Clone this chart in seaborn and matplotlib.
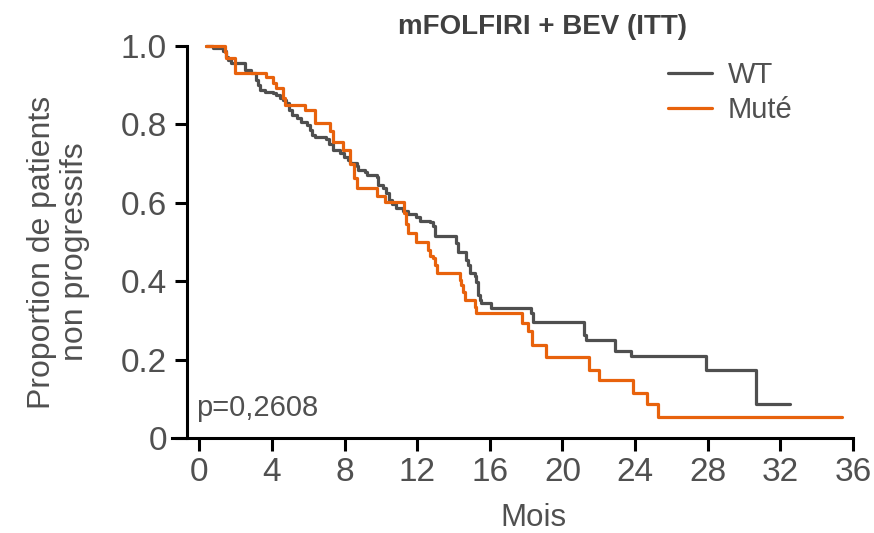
import matplotlib
matplotlib.use("Agg")
import matplotlib.pyplot as plt
import seaborn as sns
import pandas as pd
from matplotlib.lines import Line2D

# ---- data ----
wt_time = [0.35, 0.76, 1.31, 1.50, 1.59, 1.77, 2.51, 2.87, 3.15, 3.24, 3.33, 3.61, 4.06, 4.25,
           4.43, 4.61, 4.80, 4.95, 5.10, 5.40, 5.63, 5.95, 6.08, 6.22, 6.36, 7.00, 7.12, 7.35,
           7.74, 7.95, 8.20, 8.29, 8.66, 8.75, 9.11, 9.25, 9.80, 9.87, 10.12, 10.31, 10.45,
           10.60, 10.86, 11.22, 11.50, 11.96, 12.14, 12.69, 12.87, 12.97, 14.16, 14.25, 14.71,
           14.80, 14.90, 15.17, 15.26, 15.35, 15.45, 15.54, 16.09, 18.29, 18.38, 21.17, 21.28,
           22.92, 23.80, 27.89, 30.64, 32.52]
wt_surv = [1.0, 0.994, 0.988, 0.973, 0.964, 0.956, 0.940, 0.932, 0.913, 0.900, 0.888, 0.883,
           0.879, 0.875, 0.867, 0.862, 0.854, 0.837, 0.824, 0.816, 0.805, 0.798, 0.786, 0.773,
           0.769, 0.764, 0.750, 0.735, 0.726, 0.716, 0.709, 0.701, 0.694, 0.684, 0.679, 0.671,
           0.667, 0.645, 0.637, 0.625, 0.607, 0.597, 0.588, 0.580, 0.571, 0.565, 0.554, 0.550,
           0.541, 0.515, 0.497, 0.475, 0.454, 0.441, 0.420, 0.414, 0.399, 0.365, 0.352, 0.344,
           0.331, 0.318, 0.297, 0.263, 0.250, 0.223, 0.208, 0.173, 0.086, 0.086]

mut_time = [0.35, 1.40, 1.50, 1.95, 3.70, 4.07, 4.25, 4.62, 4.71, 5.81, 6.36, 7.19, 7.37, 7.92,
            8.29, 8.51, 8.70, 9.80, 10.25, 11.25, 11.41, 11.50, 11.94, 12.58, 12.69, 12.87,
            13.00, 13.10, 14.34, 14.44, 14.53, 14.64, 15.17, 15.26, 17.76, 18.10, 18.35, 19.08,
            21.45, 22.00, 23.91, 24.64, 25.24, 35.40]
mut_surv = [1.0, 0.985, 0.969, 0.930, 0.922, 0.905, 0.892, 0.867, 0.849, 0.838, 0.803, 0.782,
            0.756, 0.735, 0.698, 0.662, 0.637, 0.618, 0.602, 0.575, 0.545, 0.522, 0.501, 0.480,
            0.465, 0.458, 0.441, 0.420, 0.403, 0.390, 0.373, 0.352, 0.335, 0.318, 0.293, 0.274,
            0.237, 0.207, 0.173, 0.148, 0.114, 0.087, 0.053, 0.053]

groups = ["WT", "Muté"]
colors = {"WT": "#4f4f4f", "Muté": "#e8620c"}
x_ticks = [0, 4, 8, 12, 16, 20, 24, 28, 32, 36]
y_ticks = [0, 0.2, 0.4, 0.6, 0.8, 1.0]
y_ticklabels = ["0", "0.2", "0.4", "0.6", "0.8", "1.0"]
title = "mFOLFIRI + BEV (ITT)"
p_text = "p=0,2608"

df = pd.concat([
    pd.DataFrame({"Mois": wt_time, "Survie": wt_surv, "Groupe": "WT"}),
    pd.DataFrame({"Mois": mut_time, "Survie": mut_surv, "Groupe": "Muté"}),
], ignore_index=True)

sns.set_theme(style="ticks")
plt.rcParams["font.family"] = ["Liberation Sans", "DejaVu Sans"]

fig = plt.figure(figsize=(8.74, 5.33), dpi=100)
ax = fig.add_axes([172 / 874, 1 - 438 / 533, (853 - 172) / 874, (438 - 46) / 533])

sns.lineplot(data=df, x="Mois", y="Survie", hue="Groupe", hue_order=groups,
             palette=colors, estimator=None, sort=False, drawstyle="steps-post",
             linewidth=2.3, ax=ax, legend=False)
for ln in ax.lines:
    ln.set_clip_on(False)

ax.set_xlim(-1.5, 36)
ax.set_ylim(0, 1.0)
ax.spines["left"].set_position(("data", -0.7))
ax.spines["right"].set_visible(False)
ax.spines["top"].set_visible(False)
for s in ["left", "bottom"]:
    ax.spines[s].set_linewidth(2.2)
    ax.spines[s].set_color("black")
ax.spines["bottom"].set_bounds(-1.5, 36)

ax.set_xticks(x_ticks)
ax.set_xticklabels([str(v) for v in x_ticks])
ax.set_yticks(y_ticks)
ax.set_yticklabels(y_ticklabels)
ax.tick_params(axis="both", direction="out", length=9, width=2.2, color="black",
               labelsize=24, labelcolor="#505050", pad=5)

ax.set_xlabel("Mois", fontsize=22.5, color="#505050")
ax.xaxis.set_label_coords((533 - 172) / 681, (438 - 503) / 392)
ax.set_ylabel("Proportion de patients\nnon progressifs", fontsize=23, color="#505050",
              linespacing=1.15)
ax.yaxis.set_label_coords((90 - 172) / 681, (438 - 252) / 392)

fig.text(542 / 874, 1 - 27 / 533, title, ha="center", va="center", fontsize=20,
         fontweight="bold", color="#404040")
ax.text(-0.15, (438 - 408) / 392, p_text, fontsize=21, color="#505050",
        ha="left", va="center")

handles = [Line2D([], [], color=colors[g], linewidth=2.3) for g in groups]
leg = ax.legend(handles, groups, loc="upper left",
                bbox_to_anchor=((668 - 172) / 681, (438 - 61) / 392),
                frameon=False, fontsize=21, handlelength=1.5, handletextpad=0.55,
                labelspacing=0.25, borderpad=0, borderaxespad=0)
for t in leg.get_texts():
    t.set_color("#505050")

fig.savefig("out.png", dpi=100)
